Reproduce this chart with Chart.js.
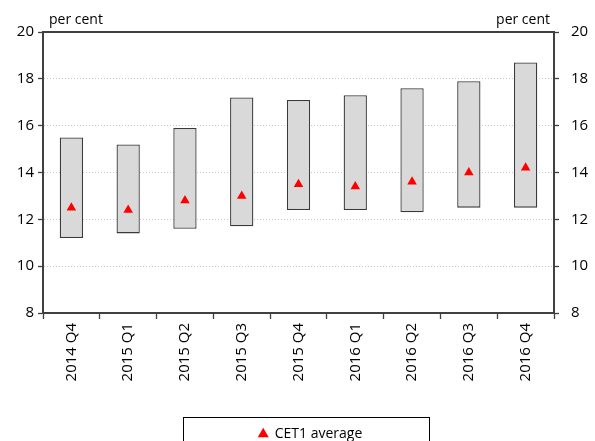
<!DOCTYPE html>
<html>
<head>
<meta charset="utf-8">
<script src="https://cdn.jsdelivr.net/npm/chart.js@4"></script>
<style>
html,body{margin:0;padding:0;background:#fff;}
#wrap{width:595px;height:441px;position:relative;}
</style>
</head>
<body>
<div id="wrap"><canvas id="c" width="595" height="441"></canvas></div>
<script>
const categories = ['2014 Q4','2015 Q1','2015 Q2','2015 Q3','2015 Q4','2016 Q1','2016 Q2','2016 Q3','2016 Q4'];
const rangeMin = [11.2, 11.4, 11.6, 11.7, 12.4, 12.4, 12.3, 12.5, 12.5];
const rangeMax = [15.5, 15.2, 15.9, 17.2, 17.1, 17.3, 17.6, 17.9, 18.7];
const cet1Average = [12.5, 12.4, 12.8, 13.0, 13.5, 13.4, 13.6, 14.0, 14.2];
const yTicks = [8, 10, 12, 14, 16, 18, 20];
const unitLabel = 'per cent';
const legendLabel = 'CET1 average';

const FONT = 'Open Sans';
const AXIS = '#404040';

const extras = {
  id: 'extras',
  afterLayout(chart) {
    const lg = chart.legend;
    if (lg) { lg.left += 13; lg.right += 13; lg.top += 10; lg.bottom += 10; }
  },
  afterDraw(chart) {
    const ctx = chart.ctx, a = chart.chartArea;
    ctx.save();
    ctx.strokeStyle = AXIS;
    ctx.lineWidth = 2;
    ctx.beginPath();
    ctx.moveTo(a.left - 1, a.top);
    ctx.lineTo(a.right + 1, a.top);
    ctx.stroke();
    ctx.fillStyle = '#000';
    ctx.font = '14px "' + FONT + '"';
    ctx.textBaseline = 'alphabetic';
    ctx.textAlign = 'left';
    ctx.fillText(unitLabel, a.left + 6, a.top - 8);
    ctx.textAlign = 'right';
    ctx.fillText(unitLabel, a.right - 4, a.top - 8);
    // legend frame
    ctx.strokeStyle = '#000';
    ctx.lineWidth = 1;
    ctx.strokeRect(183.5, 417.5, 246, 30);
    ctx.restore();
  }
};

const bars = categories.map((c, i) => [rangeMin[i], rangeMax[i]]);

new Chart(document.getElementById('c'), {
  type: 'bar',
  data: {
    labels: categories,
    datasets: [
      {
        type: 'line',
        label: legendLabel,
        data: cet1Average,
        showLine: false,
        pointStyle: 'triangle',
        pointRadius: 5.5,
        pointHoverRadius: 5.5,
        pointBackgroundColor: '#ff0000',
        pointBorderColor: '#ff0000',
        pointBorderWidth: 0,
        backgroundColor: '#ff0000',
        borderColor: '#ff0000',
        yAxisID: 'y',
        order: 0
      },
      {
        type: 'bar',
        label: 'range',
        data: bars,
        backgroundColor: '#d9d9d9',
        borderColor: '#3a3a3a',
        borderWidth: 1.3,
        borderSkipped: false,
        barPercentage: 0.41,
        categoryPercentage: 1,
        yAxisID: 'y',
        order: 1
      }
    ]
  },
  options: {
    responsive: false,
    animation: false,
    devicePixelRatio: 1,
    layout: { padding: { top: 32, left: 0, right: 0, bottom: 0 } },
    plugins: {
      tooltip: { enabled: false },
      legend: {
        position: 'bottom',
        labels: {
          filter: (item) => item.text === legendLabel,
          usePointStyle: true,
          pointStyle: 'triangle',
          boxWidth: 9,
          boxHeight: 9,
          padding: 2,
          color: '#000',
          font: { family: FONT, size: 14 }
        }
      }
    },
    scales: {
      x: {
        offset: true,
        grid: {
          offset: true,
          drawOnChartArea: false,
          drawTicks: true,
          tickLength: 6,
          tickColor: AXIS,
          tickWidth: 1.3
        },
        border: { display: true, color: AXIS, width: 2 },
        ticks: {
          minRotation: 90,
          maxRotation: 90,
          padding: 4,
          color: '#000',
          font: { family: FONT, size: 15 }
        },
        afterFit(s) { s.height = 102; }
      },
      y: {
        position: 'left',
        min: 8, max: 20,
        afterBuildTicks(s) { s.ticks = yTicks.map(v => ({ value: v })); },
        grid: {
          color: '#c8c8c8',
          lineWidth: 1,
          drawTicks: true,
          tickLength: 5,
          tickColor: AXIS,
          tickWidth: 1.3,
          tickBorderDash: []
        },
        border: { display: true, color: AXIS, width: 2, dash: [1, 2] },
        ticks: {
          padding: 4,
          color: '#000',
          font: { family: FONT, size: 15 }
        },
        afterFit(s) { s.width = 43; }
      },
      y2: {
        position: 'right',
        min: 8, max: 20,
        afterBuildTicks(s) { s.ticks = yTicks.map(v => ({ value: v })); },
        grid: {
          drawOnChartArea: false,
          drawTicks: true,
          tickLength: 5,
          tickColor: AXIS,
          tickWidth: 1.3
        },
        border: { display: true, color: AXIS, width: 2 },
        ticks: {
          padding: 12,
          color: '#000',
          font: { family: FONT, size: 15 }
        },
        afterFit(s) { s.width = 41; }
      }
    }
  },
  plugins: [extras]
});
</script>
</body>
</html>
